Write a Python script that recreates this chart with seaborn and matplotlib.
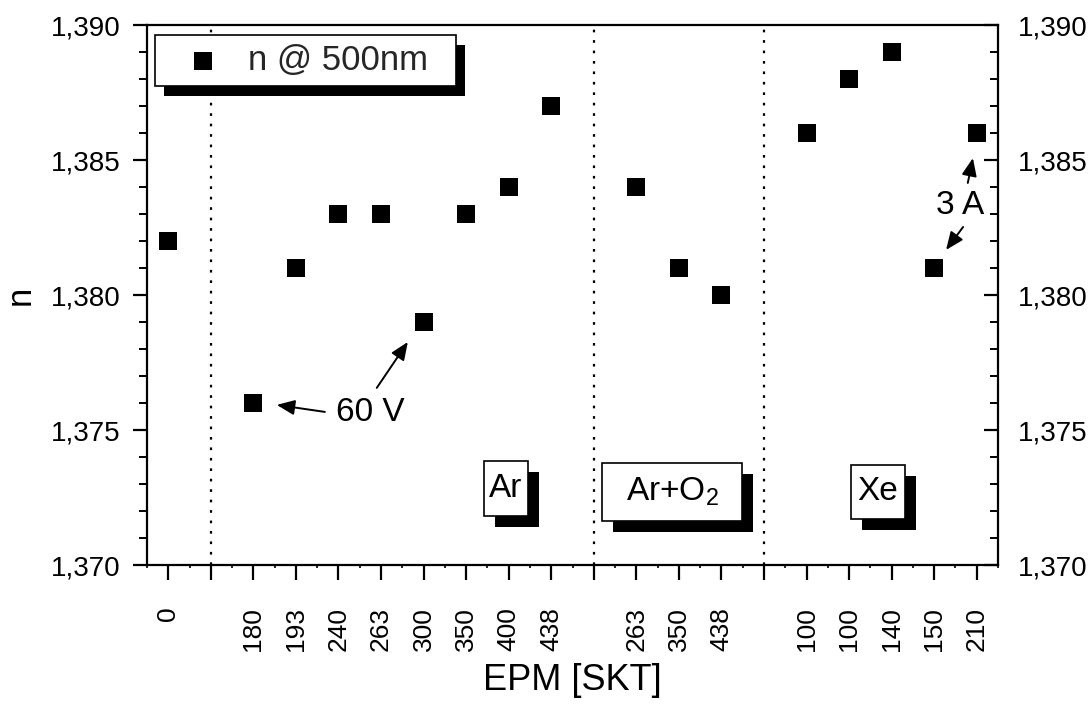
import numpy as np
import pandas as pd
import matplotlib
matplotlib.use("Agg")
import matplotlib.pyplot as plt
from matplotlib.patches import Rectangle
from matplotlib.ticker import MultipleLocator, FixedLocator, FuncFormatter
import seaborn as sns

# ---- data ----
tick_labels = ["0", "", "180", "193", "240", "263", "300", "350", "400", "438",
               "", "263", "350", "438", "", "100", "100", "140", "150", "210"]
n_values = [1.382,
            1.376, 1.381, 1.383, 1.383, 1.379, 1.383, 1.384, 1.387,
            1.384, 1.381, 1.380,
            1.386, 1.388, 1.389, 1.381, 1.386]
gas_groups = ["none"] + ["Ar"] * 8 + ["Ar+O2"] * 3 + ["Xe"] * 5
separators = [1, 10, 14]
y_ticks = [1.370, 1.375, 1.380, 1.385, 1.390]

positions = [i for i, t in enumerate(tick_labels) if t != ""]
df = pd.DataFrame({"pos": positions, "n": n_values, "gas": gas_groups})

sns.set_theme(style="ticks")
plt.rcParams["font.family"] = ["Liberation Sans", "DejaVu Sans"]
plt.rcParams["mathtext.default"] = "regular"

fig = plt.figure(figsize=(10.88, 7.08), dpi=100)
ax = fig.add_axes([147 / 1088, 1 - 565 / 708, (998 - 147) / 1088, (565 - 25) / 708])

sns.scatterplot(data=df, x="pos", y="n", marker="s", s=175, color="black",
                linewidth=0, label="n @ 500nm  ", ax=ax, zorder=3)

for sx in separators:
    ax.axvline(sx, color="black", linestyle=(0, (1.2, 3.5)), linewidth=1.6, zorder=1)

ax.set_xlim(-0.5, len(tick_labels) - 0.5)
ax.set_ylim(1.370, 1.390)

ax.set_xticks(range(len(tick_labels)))
ax.set_xticklabels(tick_labels, rotation=90, fontsize=19)
ax.xaxis.set_minor_locator(FixedLocator(np.arange(-0.5, len(tick_labels), 1.0)))
ax.set_yticks(y_ticks)
ax.yaxis.set_minor_locator(MultipleLocator(0.001))
fmt = FuncFormatter(lambda v, p: f"{v:.3f}".replace(".", ","))
ax.yaxis.set_major_formatter(fmt)

ax.tick_params(axis="x", which="major", direction="out", length=11, width=1.6,
               labelsize=19, color="black", labelcolor="black", pad=19)
ax.tick_params(axis="x", which="minor", direction="out", length=2.5, width=1.2,
               color="black")
ax.tick_params(axis="y", which="major", direction="out", length=10, width=1.6,
               labelsize=20, color="black", labelcolor="black", pad=9)
ax.tick_params(axis="y", which="minor", direction="out", length=6, width=1.4,
               color="black")

for sp in ax.spines.values():
    sp.set_visible(True)
    sp.set_linewidth(1.6)
    sp.set_color("black")

ax2 = ax.twinx()
ax2.set_ylim(ax.get_ylim())
ax2.set_yticks(y_ticks)
ax2.yaxis.set_minor_locator(MultipleLocator(0.001))
ax2.yaxis.set_major_formatter(fmt)
ax2.tick_params(axis="y", which="major", direction="in", length=10, width=1.6,
                labelsize=20, color="black", labelcolor="black", pad=14)
ax2.tick_params(axis="y", which="minor", direction="in", length=6, width=1.4,
                color="black")
for sp in ax2.spines.values():
    sp.set_visible(False)

ax.set_xlabel("EPM [SKT]", fontsize=26, color="black", labelpad=9)
ax.set_ylabel("n", fontsize=25, color="black", labelpad=10)

# group labels (boxes added after layout)
group_texts = [
    (7.94, 1.37283, "Ar", 44, 55),
    (11.84, 1.37270, "Ar+O$_2$", 140, 58),
    (16.68, 1.37271, "Xe", 54, 54),
]
text_artists = []
for gx, gy, gt, w, h in group_texts:
    t = ax.text(gx, gy, gt, fontsize=24, ha="center", va="center", color="black",
                zorder=6)
    text_artists.append((t, w, h))

# annotations
arrow = dict(arrowstyle="-|>,head_length=0.9,head_width=0.38", color="black",
             lw=1.4, shrinkA=0, shrinkB=0)
ax.text(4.74, 1.37563, "60 V", fontsize=24, ha="center", va="center", color="black")
ax.annotate("", xy=(2.55, 1.37593), xytext=(3.68, 1.37567), arrowprops=arrow)
ax.annotate("", xy=(5.63, 1.37826), xytext=(4.90, 1.37656), arrowprops=arrow)
ax.text(18.61, 1.38330, "3 A", fontsize=24, ha="center", va="center", color="black")
ax.annotate("", xy=(18.91, 1.38507), xytext=(18.79, 1.38415), arrowprops=arrow)
ax.annotate("", xy=(18.28, 1.38167), xytext=(18.68, 1.38252), arrowprops=arrow)

# legend with black drop shadow
leg = ax.legend(loc="upper left", bbox_to_anchor=(0.0094, 0.981), frameon=True,
                fancybox=False, fontsize=25, handletextpad=0.17, borderpad=0.26,
                handlelength=2.25, markerscale=1.0, borderaxespad=0)
leg.get_frame().set_edgecolor("black")
leg.get_frame().set_linewidth(1.2)
leg.get_frame().set_alpha(1)
leg.set_zorder(7)
ax.set_zorder(ax2.get_zorder() + 1)
ax.patch.set_visible(False)

fig.canvas.draw()
bb = leg.get_window_extent()
shadow = Rectangle((bb.x0 + 9, bb.y0 - 10), bb.width, bb.height, transform=None,
                   facecolor="black", edgecolor="none", zorder=6.5)
shadow.set_clip_on(False)
ax.add_artist(shadow)

# boxes with black shadow for the group labels
for t, w, h in text_artists:
    cx, cy = ax.transData.transform(t.get_position())
    sh = Rectangle((cx - w / 2 + 11, cy - h / 2 - 11), w, h, transform=None,
                   facecolor="black", edgecolor="none", zorder=4)
    bx = Rectangle((cx - w / 2, cy - h / 2), w, h, transform=None,
                   facecolor="white", edgecolor="black", linewidth=1.2, zorder=5)
    for p in (sh, bx):
        p.set_clip_on(False)
        ax.add_artist(p)

fig.savefig("out.png", dpi=100)
